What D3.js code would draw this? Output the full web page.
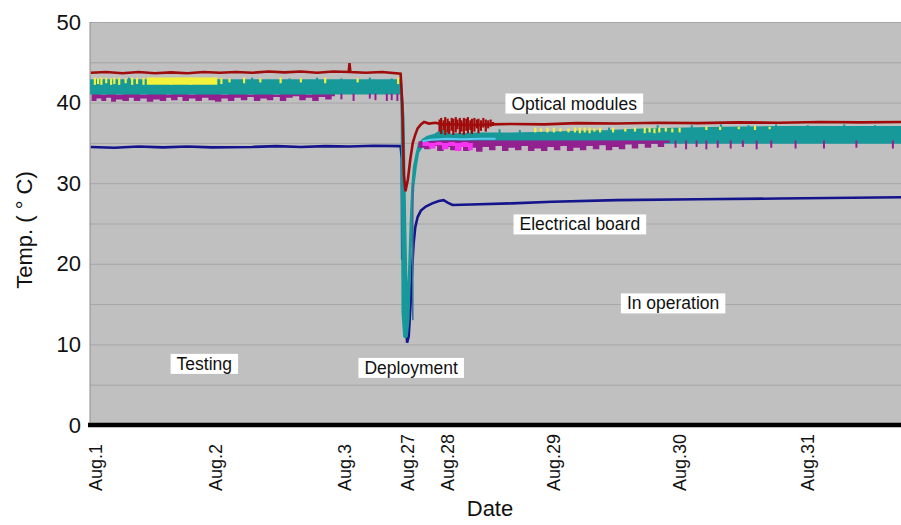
<!DOCTYPE html>
<html lang="en">
<head>
<meta charset="UTF-8">
<title>Temperature record</title>
<script src="https://d3js.org/d3.v7.min.js"></script>
<style>
    body { margin: 0; background: #fff; font-family: Arial, "Liberation Sans", sans-serif; }
    #chart svg { display: block; }
    .tick-label { font-size: 18px; fill: #111; }
    .y-label { font-size: 22px; fill: #111; }
    .axis-title { font-size: 22px; fill: #111; }
    .note { font-size: 17.5px; fill: #111; }
</style>
</head>
<body>
<div id="chart"></div>
<script>
    // --- Data (x = sample number along the record, y = temperature in deg C) ---
    const tickLabels  = ["Aug.1", "Aug.2", "Aug.3", "Aug.27", "Aug.28", "Aug.29", "Aug.30", "Aug.31"];
    const tickSamples = [6, 154, 314, 391, 441, 571, 727, 884];
    const yTicks = [0, 10, 20, 30, 40, 50];
    const yGrid  = [5, 10, 15, 20, 25, 30, 35, 40, 45, 50];

    // electrical board (navy)
    const navyLine = [[1,34.5],[30,34.4],[60,34.55],[90,34.45],[120,34.55],[150,34.45],[200,34.5],[230,34.6],[260,34.5],
        [290,34.6],[320,34.55],[350,34.65],[383,34.6],[384.5,33],[385,20.5],
        [386,28],[387,22],[389,14],[391,10.2],[393,11],[395,14.5],[397,19],[399,22.5],[401,24.5],[404,25.8],[408,26.6],
        [414,27.1],[422,27.5],[430,27.8],[436,27.9],[441,27.6],[447,27.3],[470,27.35],[520,27.5],[570,27.7],[650,27.9],
        [750,28.0],[850,28.1],[1000,28.25]];

    // optical modules: [sample, low, high] bands
    const tealBand = [[1,41.1,42.8],[383,41.1,42.8],[384,38,42.6],[385,14,41],[387,11,38],[389,10.8,25],[391,11,15],
        [393,13,19],[395,19,25],[397,26,29.5],[399,29.5,32],[402,32,33.5],[405,33.8,34.8],[410,34.6,35.4],[416,35.0,35.8],
        [424,35.2,36.0],[432,35.3,36.5],[438,35.3,36.8],[444,35.2,36.0],[450,35.2,36.1],[480,35.2,36.2],[520,35.2,36.2],
        [560,35.2,36.3],[600,35.1,36.4],[640,35.1,36.5],[680,35.0,36.7],[720,35.0,36.8],[780,35.0,36.9],[860,35.0,37.0],
        [1000,35.0,37.0]];
    const tealSpikes = [[398,13,30],[20,42.6,43.0],[48,42.6,43.1],[150,42.6,43.0],[200,42.6,43.1],[246,42.6,43.0],
        [280,42.6,43.1],[310,42.6,43.0],[345,42.6,43.1],[372,42.6,43.0],[470,36.0,36.6],[505,36.1,36.7],[530,36.1,36.6],
        [640,36.4,36.9],[700,36.6,37.2],[742,36.8,37.2],[778,36.8,37.3],[812,36.9,37.2],[846,36.9,37.3],
        [885,36.9,37.2],[930,36.9,37.3],[968,36.9,37.2]];

    const purpleBand = [[2,40.2,41.1],[8,40.5,41.1],[14,40.2,41.0],[20,40.6,41.1],[26,40.1,41.1],[32,40.4,41.0],
        [40,40.2,41.1],[48,40.6,41.1],[54,40.2,41.1],[62,40.5,41.0],[70,40.1,41.1],[78,40.4,41.1],[86,40.2,41.1],
        [94,40.6,41.0],[100,40.3,41.1],[108,40.7,41.1],[114,40.2,41.1],[122,40.5,41.0],[130,40.2,41.1],[138,40.6,41.1],
        [146,40.3,41.1],[154,40.1,41.1],[162,40.5,41.0],[170,40.2,41.1],[178,40.6,41.1],[186,40.3,41.1],[194,40.7,41.0],
        [202,40.2,41.1],[210,40.5,41.1],[218,40.3,41.1],[226,40.7,41.0],[234,40.2,41.1],[242,40.6,41.1],[250,40.8,41.1],
        [258,40.3,41.1],[266,40.6,41.0],[274,40.2,41.1],[282,40.7,41.1],[290,40.4,41.1],[298,40.8,41.1],[302,40.8,41.1]];
    const purplePostBand = [[405,34.4,35.2],[412,34.2,35.3],[420,34.6,35.3],[428,34.0,35.3],[436,34.5,35.3],[444,34.1,35.3],
        [452,34.6,35.3],[460,34.0,35.3],[468,34.4,35.3],[476,33.9,35.3],[484,34.5,35.3],[492,34.1,35.3],[500,34.6,35.3],
        [508,34.0,35.3],[516,34.4,35.3],[524,34.1,35.3],[532,34.6,35.3],[540,34.0,35.3],[548,34.3,35.3],[556,34.0,35.3],
        [564,34.5,35.3],[572,34.1,35.3],[580,34.6,35.3],[588,34.0,35.3],[596,34.4,35.3],[604,34.1,35.3],[612,34.6,35.3],
        [620,34.2,35.3],[628,34.7,35.3],[636,34.1,35.3],[644,34.5,35.3],[652,34.2,35.3],[660,34.8,35.3],[668,34.3,35.3],
        [676,34.9,35.3],[684,34.4,35.3],[692,34.9,35.3],[700,34.5,35.3],[708,35.0,35.3],[715,35.0,35.3]];
    const purpleSpikes = [[310,40.4,41.1],[325,40.2,41.1],[345,40.5,41.1],[352,40.3,41.1],[366,40.2,41.1],[372,40.3,41.1],
        [379,40.2,41.1],[722,34.4,35.3],[735,34.2,35.3],[748,34.5,35.3],[760,34.2,35.3],[774,34.4,35.3],[790,34.3,35.3],
        [805,34.5,35.3],[822,34.2,35.3],[840,34.4,35.3],[870,34.3,35.3],[905,34.3,35.3],[945,34.4,35.3],[990,34.3,35.3]];

    const magentaBand = [[410,34.6,35.1],[418,34.3,35.0],[426,34.7,35.1],[434,34.2,35.0],[442,34.6,35.1],[450,34.0,35.0],
        [458,34.5,35.1],[466,34.1,35.0],[472,34.1,35.0]];
    const cyanLine = [[410,35.2],[420,35.4],[440,35.5],[460,35.45],[480,35.5],[500,35.5]];

    const yellowBand = [[70,42.2,43.1],[86,42.2,43.1],[144,42.2,43.1],[157,42.2,43.1]];
    const yellowSpikes = [[6,42.2,43.1],[10,42.3,43.0],[14,42.2,43.1],[20,42.4,43.1],[26,42.2,43.0],[30,42.3,43.1],
        [36,42.2,43.1],[44,42.4,43.0],[52,42.2,43.1],[58,42.3,43.1],[66,42.2,43.1],[92,42.3,43.0],[100,42.2,43.1],
        [108,42.4,43.1],[116,42.3,43.0],[124,42.2,43.1],[130,42.5,43.1],[138,42.3,43.0],[162,42.3,43.1],[172,42.5,43.0],
        [190,42.4,43.1],[210,42.5,43.0],[235,42.4,43.1],[260,42.5,43.0],[290,42.4,43.1],[330,42.5,43.0],[380,42.3,43.1],
        [438,36.2,36.9],[549,36.3,36.9],[556,36.4,36.8],[564,36.3,36.9],[572,36.3,36.9],[580,36.4,36.8],[590,36.3,36.8],
        [598,36.3,36.9],[604,36.2,36.9],[610,36.3,36.9],[616,36.2,36.9],[622,36.4,36.8],[629,36.3,36.9],[645,36.3,36.9],
        [660,36.4,36.8],[672,36.4,36.9],[684,36.2,36.9],[690,36.3,36.9],[696,36.2,36.8],[702,36.3,36.9],[710,36.4,36.9],
        [718,36.3,36.8],[727,36.3,36.9],[760,36.6,37.0],[777,36.6,37.0],[800,36.7,37.0],[820,36.6,37.1],[838,36.7,37.0]];

    const redLine = [[1,43.7],[20,43.8],[40,43.65],[60,43.8],[80,43.65],[100,43.75],[120,43.65],[140,43.8],[160,43.7],
        [180,43.8],[200,43.7],[220,43.85],[240,43.75],[260,43.85],[280,43.7],[300,43.85],[319,43.8],
        [320,44.9],[321,43.8],[340,43.7],[360,43.8],[383,43.6],[385,40],[387,31],[389,29],[392,30.5],[395,33],[398,35],[401,36],
        [404,36.8],[408,37.3],[412,37.6],[418,37.4],[426,37.5],[434,37.3],[450,37.3],[470,37.2],[495,37.3],[520,37.35],
        [560,37.3],[600,37.45],[650,37.4],[700,37.5],[750,37.45],[800,37.55],[850,37.5],[900,37.6],[950,37.55],[1000,37.6]];
    const redSpikes = [[431,36.4,37.9],[433,36.1,38.1],[436,36.6,37.8],[438,36.0,38.2],[441,36.3,38.0],[443,36.1,37.7],
        [446,36.5,38.1],[448,36.0,38.0],[451,36.3,38.2],[453,36.7,37.9],[456,36.1,38.1],[458,36.4,37.8],[461,36.0,38.1],
        [464,36.5,38.0],[466,36.2,38.2],[469,36.6,37.8],[471,36.1,38.0],[474,36.4,38.1],[477,36.8,37.9],[479,36.2,38.0],
        [482,36.5,37.8],[485,36.9,38.1],[488,36.4,37.9],[491,36.8,37.8],[494,37.0,37.9],[497,37.1,37.6]];

    // text boxes: [text, sample, temperature]
    const notes = [["Optical modules", 597, 39.9], ["Electrical board", 604, 24.9], ["In operation", 719, 15.1],
        ["Testing", 141, 7.6], ["Deployment", 396, 7.1]];

    // --- Chart setup ---
    const W = 901, H = 525;
    const svg = d3.select("#chart").append("svg").attr("width", W).attr("height", H);

    const x = d3.scaleLinear().domain([0, 1000]).range([90, 901]);
    const y = d3.scaleLinear().domain([0, 50]).range([425, 22]);

    svg.append("rect").attr("x", x(0)).attr("y", y(50)).attr("width", x(1000) - x(0)).attr("height", y(0) - y(50))
        .attr("fill", "#c0c0c0");

    // grid
    const grid = svg.append("g").attr("transform", `translate(${x(0)},0)`)
        .call(d3.axisLeft(y).tickValues(yGrid).tickSize(-(x(1000) - x(0))).tickFormat(""));
    grid.select(".domain").remove();
    grid.selectAll(".tick line").attr("stroke", "#a6a6a6");
    svg.append("line").attr("x1", x(0)).attr("x2", x(0)).attr("y1", y(50)).attr("y2", y(0)).attr("stroke", "#8c8c8c");

    // --- Series ---
    const line = d3.line().x(d => x(d[0])).y(d => y(d[1]));
    const area = d3.area().x(d => x(d[0])).y0(d => y(d[1])).y1(d => y(d[2]));
    const stepArea = d3.area().curve(d3.curveStepAfter).x(d => x(d[0])).y0(d => y(d[1])).y1(d => y(d[2]));

    function spikes(data, color, w) {
        return svg.append("g").selectAll("line").data(data).join("line")
            .attr("x1", d => x(d[0])).attr("x2", d => x(d[0]))
            .attr("y1", d => y(d[1])).attr("y2", d => y(d[2]))
            .attr("stroke", color).attr("stroke-width", w);
    }

    svg.append("path").datum(navyLine).attr("d", line).attr("fill", "none").attr("stroke", "#14148c").attr("stroke-width", 2.6);
    svg.append("path").datum(purpleBand).attr("d", stepArea).attr("fill", "#93208f");
    svg.append("path").datum(tealBand).attr("d", area).attr("fill", "#17999a").attr("stroke", "#17999a").attr("stroke-width", 1.5);
    spikes(tealSpikes, "#17999a", 2).filter((d, i) => i === 0).attr("stroke", "#3f6f98").attr("stroke-width", 1.6);
    svg.append("path").datum(purplePostBand).attr("d", stepArea).attr("fill", "#93208f");
    spikes(purpleSpikes, "#93208f", 2);
    svg.append("path").datum(magentaBand).attr("d", stepArea).attr("fill", "#f535f0");
    svg.append("path").datum(cyanLine).attr("d", line).attr("fill", "none").attr("stroke", "#5cc8f0").attr("stroke-width", 2);
    svg.append("path").datum(yellowBand).attr("d", stepArea).attr("fill", "#f2f23a");
    spikes(yellowSpikes, "#f0f040", 2.2);
    spikes(redSpikes, "#a00c0c", 2.2);
    svg.append("path").datum(redLine).attr("d", line).attr("fill", "none").attr("stroke", "#a00c0c").attr("stroke-width", 2.6);

    // bottom axis line
    svg.append("line").attr("x1", x(0) - 2).attr("x2", x(1000)).attr("y1", y(0)).attr("y2", y(0))
        .attr("stroke", "#000").attr("stroke-width", 4.5);

    // --- Axes ---
    const yAxis = svg.append("g").attr("transform", `translate(${x(0)},0)`)
        .call(d3.axisLeft(y).tickValues(yTicks).tickSize(0).tickPadding(9));
    yAxis.select(".domain").remove();
    yAxis.selectAll("text").attr("class", "y-label").attr("font-family", null).attr("font-size", null);

    const xAxis = svg.append("g").attr("transform", `translate(0,${y(0)})`)
        .call(d3.axisBottom(x).tickValues(tickSamples).tickFormat((d, i) => tickLabels[i]).tickSize(0));
    xAxis.select(".domain").remove();
    xAxis.selectAll("text").attr("class", "tick-label").attr("font-family", null).attr("font-size", null)
        .attr("transform", "rotate(-90)").attr("text-anchor", "start")
        .attr("x", -66).attr("y", 0).attr("dy", "0.35em");

    svg.append("text").attr("class", "axis-title").attr("text-anchor", "middle").attr("font-size", "23px")
        .attr("transform", "translate(32,230) rotate(-90)").text("Temp. ( ° C)");
    svg.append("text").attr("class", "axis-title").attr("text-anchor", "middle")
        .attr("x", 490).attr("y", 516).text("Date");

    // --- Text boxes ---
    notes.forEach(n => {
        const g = svg.append("g");
        const t = g.append("text").attr("class", "note").attr("text-anchor", "middle")
            .attr("x", x(n[1])).attr("y", y(n[2])).attr("dy", "0.35em").text(n[0]);
        const b = t.node().getBBox();
        g.insert("rect", "text").attr("x", b.x - 6).attr("y", b.y).attr("width", b.width + 12).attr("height", b.height)
            .attr("fill", "#fff");
    });
</script>
</body>
</html>
